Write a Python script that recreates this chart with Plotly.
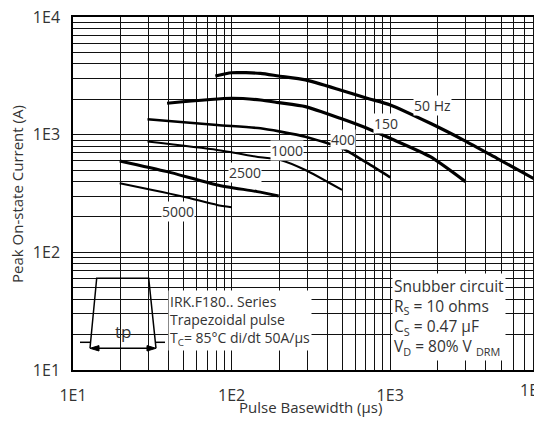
import numpy as np
import plotly.graph_objects as go

# ---------------- data ----------------
x_50 = [79, 100, 152, 198, 292, 484, 714, 1000, 1790, 2900, 4710, 9100, 10000]
y_50 = [3150, 3360, 3320, 3150, 2920, 2400, 2040, 1790, 1250, 900, 630, 386, 360]

x_150 = [39.2, 100, 152, 198, 292, 484, 714, 1000, 1790, 2980]
y_150 = [1850, 2040, 1970, 1870, 1730, 1377, 1133, 931, 650, 399]

x_400 = [29.5, 80.9, 152, 203, 292, 497, 714, 1000]
y_400 = [1352, 1208, 1133, 1061, 962, 766, 575, 434]

x_1000 = [29.5, 80.9, 152, 203, 292, 497]
y_1000 = [873, 741, 643, 610, 501, 339]

x_2500 = [19.7, 39.2, 80.9, 145, 198]
y_2500 = [598, 485, 374, 328, 301]

x_5000 = [19.7, 49.8, 80.9, 100]
y_5000 = [386, 297, 253, 242]

curve_names = ["50 Hz", "150", "400", "1000", "2500", "5000"]
label_x = [1837, 944, 504, 223, 121, 45.7]
label_y = [1786, 1250, 914, 731, 479, 222]

tick_vals = [10, 100, 1000, 10000]
tick_text = ["1E1", "1E2", "1E3", "1E4"]
minor_vals = [m * d for d in [10, 100, 1000] for m in range(2, 10)]

# ---------------- layout geometry (screen pixels; page body has 8px offset) ----------------
OFF = 8
W, H = 542 - OFF, 432 - OFF
PL, PR, PT, PB = 73, 542, 17, 370          # plot area in screen pixels
ML, MR, MT, MB = PL - OFF, 0, PT - OFF, H - (PB - OFF)
PW = PR - PL
PH = PB - PT
DEC_X = 158.6
X_RANGE = [1, 1 + PW / DEC_X]
Y_RANGE = [1, 4]

FONT = "Open Sans"
TXT = "#333333"


def px(xs):
    return (xs - PL) / PW


def py(ys):
    return (PB - ys) / PH


fig = go.Figure()
series = [(x_50, y_50, 3.2), (x_150, y_150, 3.2), (x_400, y_400, 2.6),
          (x_1000, y_1000, 2.0), (x_2500, y_2500, 3.0), (x_5000, y_5000, 2.0)]
for (xs, ys, w), name in zip(series, curve_names):
    fig.add_trace(go.Scatter(x=xs, y=ys, mode="lines", name=name,
                             line=dict(color="black", width=w, shape="spline", smoothing=0.6),
                             showlegend=False, hoverinfo="skip"))

annotations = []
for name, lx, ly in zip(curve_names, label_x, label_y):
    annotations.append(dict(x=np.log10(lx), y=np.log10(ly), xref="x", yref="y", text=name,
                            xanchor="center", yanchor="middle",
                            showarrow=False, bgcolor="white", borderpad=0,
                            font=dict(family=FONT, size=14, color=TXT)))

# info boxes
annotations.append(dict(x=px(168), y=py(290), xref="paper", yref="paper", xanchor="left", yanchor="top",
                        align="left", showarrow=False, bgcolor="white", borderpad=1,
                        text="IRK.F180.. Series<br>Trapezoidal pulse<br>T<sub>C</sub>= 85°C di/dt 50A/µs",
                        font=dict(family=FONT, size=14, color=TXT)))
annotations.append(dict(x=px(392), y=py(273), xref="paper", yref="paper", xanchor="left", yanchor="top",
                        align="left", showarrow=False, bgcolor="white", borderpad=1,
                        text="Snubber circuit<br>R<sub>S</sub> = 10 ohms<br>C<sub>S</sub> = 0.47 µF<br>V<sub>D</sub> = 80% V <sub>DRM</sub>",
                        font=dict(family=FONT, size=15.5, color=TXT)))
annotations.append(dict(x=px(123.3), y=py(331), xref="paper", yref="paper", text="tp",
                        xanchor="center", yanchor="middle",
                        showarrow=False, font=dict(family=FONT, size=17, color=TXT)))
# axis titles and clipped last tick label
annotations.append(dict(x=px(310), y=py(407), xref="paper", yref="paper", text="Pulse Basewidth (µs)",
                        xanchor="center", yanchor="middle",
                        showarrow=False, font=dict(family=FONT, size=15, color=TXT)))
annotations.append(dict(x=px(17), y=py(194), xref="paper", yref="paper", text="Peak On-state Current (A)",
                        xanchor="center", yanchor="middle",
                        textangle=-90, showarrow=False, font=dict(family=FONT, size=15, color=TXT)))
annotations.append(dict(x=px(533), y=py(390), xref="paper", yref="paper", text="1E4",
                        xanchor="center", yanchor="middle",
                        showarrow=False, font=dict(family=FONT, size=16, color=TXT)))

shapes = []
# white patch hiding the grid behind the pulse sketch
shapes.append(dict(type="rect", xref="paper", yref="paper", x0=px(77), x1=px(168), y0=py(358), y1=py(272),
                   fillcolor="white", line=dict(width=0), layer="between"))


def path(points, close=False):
    s = "M " + " L ".join(f"{px(a):.5f},{py(b):.5f}" for a, b in points)
    return s + (" Z" if close else "")


line_style = dict(color="black", width=1.5)
shapes.append(dict(type="path", xref="paper", yref="paper",
                   path=path([(90, 348.3), (96.7, 278.3), (148.7, 278.3), (156, 348.3)]),
                   line=line_style, layer="above"))
shapes.append(dict(type="path", xref="paper", yref="paper", path=path([(80, 342.3), (90, 342.3)]),
                   line=line_style, layer="above"))
shapes.append(dict(type="path", xref="paper", yref="paper", path=path([(156, 342.3), (165, 342.3)]),
                   line=line_style, layer="above"))
shapes.append(dict(type="path", xref="paper", yref="paper", path=path([(92, 348.3), (154, 348.3)]),
                   line=line_style, layer="above"))
shapes.append(dict(type="path", xref="paper", yref="paper",
                   path=path([(90, 348.3), (99, 345.6), (99, 351)], close=True),
                   fillcolor="black", line=dict(color="black", width=1), layer="above"))
shapes.append(dict(type="path", xref="paper", yref="paper",
                   path=path([(156, 348.3), (147, 345.6), (147, 351)], close=True),
                   fillcolor="black", line=dict(color="black", width=1), layer="above"))

grid = dict(showgrid=True, gridcolor="#111111", gridwidth=1.4)
fig.update_layout(
    width=W, height=H,
    margin=dict(l=ML, r=MR, t=MT, b=MB, autoexpand=False),
    paper_bgcolor="white", plot_bgcolor="white",
    xaxis=dict(type="log", range=X_RANGE, tickmode="array", tickvals=tick_vals, ticktext=tick_text,
               ticks="", showline=True, linecolor="black", linewidth=1.5, mirror=True,
               tickfont=dict(family=FONT, size=16, color=TXT), ticklabelstandoff=10,
               ticklabeloverflow="allow",
               automargin=False, zeroline=False, **grid,
               minor=dict(tickmode="array", tickvals=minor_vals, ticks="", **grid)),
    yaxis=dict(type="log", range=Y_RANGE, tickmode="array", tickvals=tick_vals, ticktext=tick_text,
               ticks="", showline=True, linecolor="black", linewidth=1.5,
               tickfont=dict(family=FONT, size=16, color=TXT), ticklabelstandoff=8,
               ticklabeloverflow="allow",
               automargin=False, zeroline=False, **grid,
               minor=dict(tickmode="array", tickvals=minor_vals, ticks="", **grid)),
    annotations=annotations,
    shapes=shapes,
)

fig.write_html("out.html")
